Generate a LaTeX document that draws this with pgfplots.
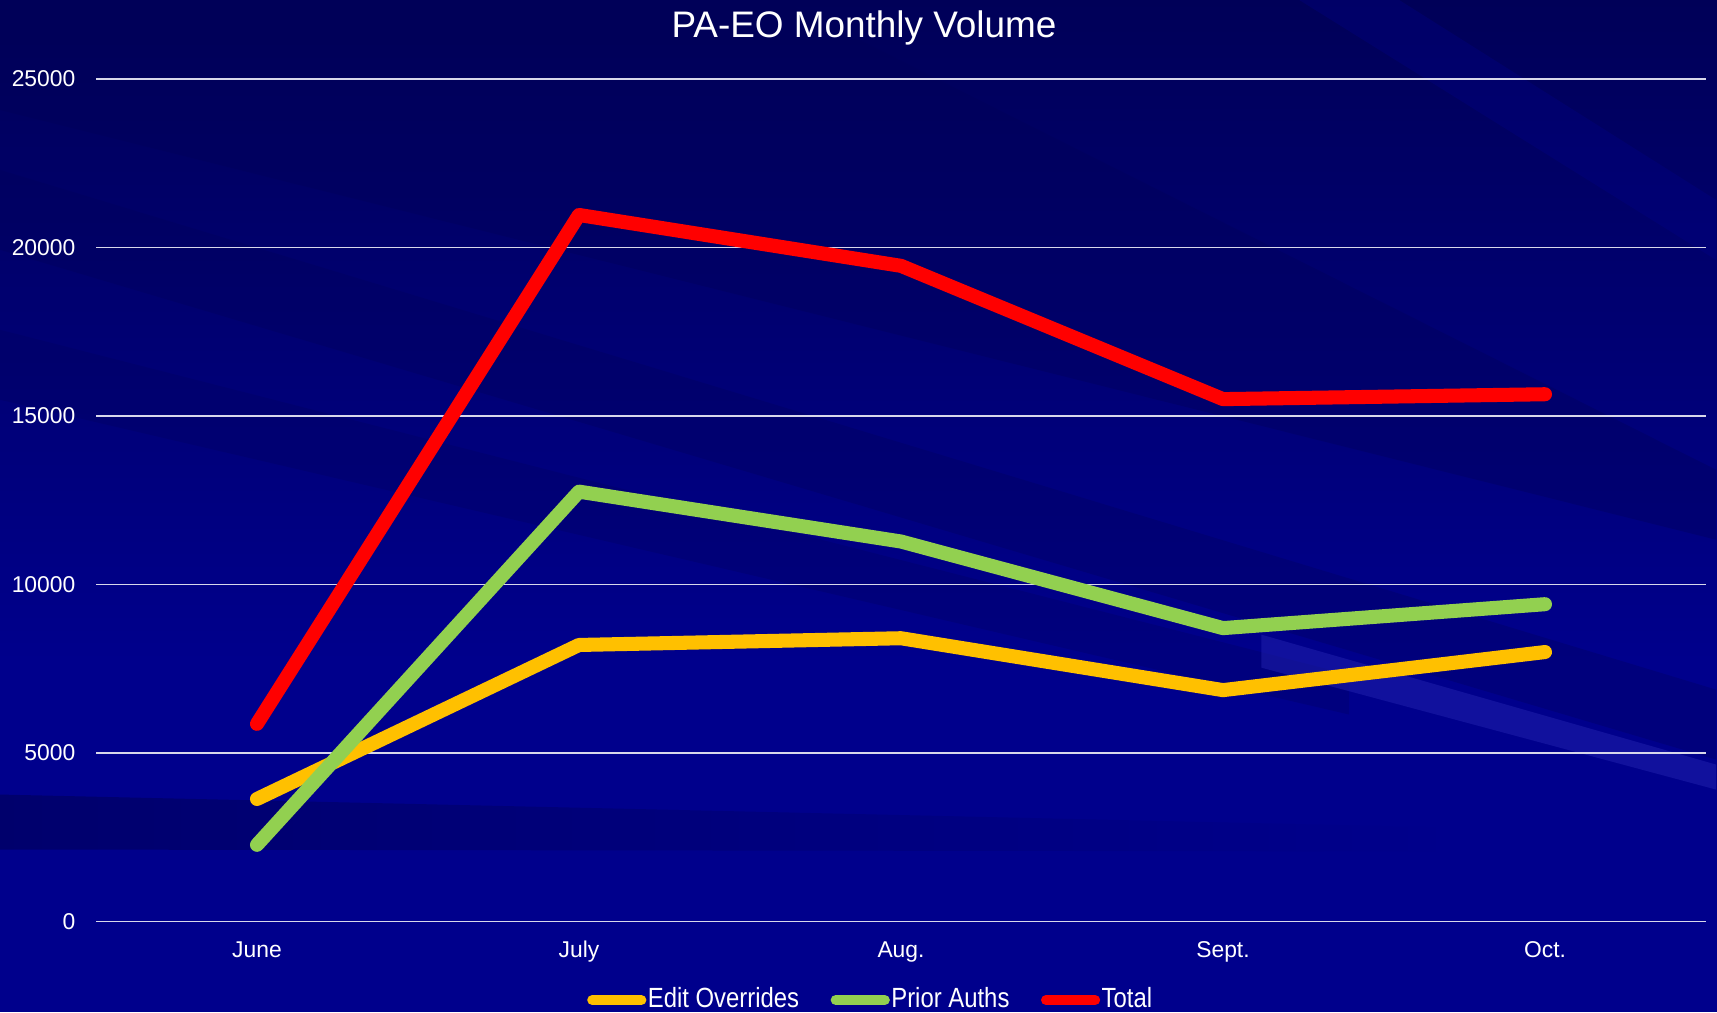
\documentclass[border=0pt]{standalone}
\usepackage{pgfplots}
\pgfplotsset{compat=1.18}
\usepackage{fontspec}
\setmainfont{Liberation Sans}
\newfontfamily\narrowfont[FakeStretch=0.86]{Liberation Sans}
\definecolor{bgbase}{RGB}{0,0,140}
\definecolor{bgmid}{RGB}{0,0,105}
\definecolor{bgdark}{RGB}{0,0,88}
\definecolor{bglight}{RGB}{35,35,175}
\definecolor{eoY}{RGB}{255,192,0}
\definecolor{paG}{RGB}{146,208,80}
\definecolor{totR}{RGB}{255,0,0}
\definecolor{gridc}{RGB}{215,215,235}
\begin{document}
\begin{tikzpicture}
\useasboundingbox (0,0) rectangle (17.17cm,10.12cm);
\clip (0,0) rectangle (17.17cm,10.12cm);
\fill[bgbase] (0,0) rectangle (17.17cm,10.12cm);
\shade[top color=bgdark, bottom color=bgbase] (0,3.5cm) rectangle (17.17cm,10.12cm);
\begin{scope}[x=0.01cm,y=-0.01cm,shift={(0cm,10.12cm)}]
  \fill[bgdark,opacity=0.35] (0,0) -- (780,0) -- (1717,470) -- (1717,540) -- (0,110) -- cycle;
  \fill[bgdark,opacity=0.3] (0,170) -- (0,250) -- (1717,760) -- (1717,690) -- cycle;
  \fill[bgdark,opacity=0.25] (0,330) -- (0,400) -- (1350,715) -- (1350,675) -- cycle;
  \fill[bgbase,opacity=0.3] (1300,0) -- (1400,0) -- (1717,200) -- (1717,260) -- cycle;
  \shade[left color=bgdark, right color=bgbase, opacity=0.6] (0,795) -- (1450,828) -- (1450,852) -- (0,850) -- cycle;
  \fill[bglight,opacity=0.5] (1262,635) -- (1717,765) -- (1717,790) -- (1262,668) -- cycle;
\end{scope}
\node[text=white,font=\fontsize{10.5}{12}\selectfont] at (8.64cm,9.84cm) {PA-EO Monthly Volume};
\begin{axis}[
  at={(0.96cm,0.907cm)}, anchor=south west,
  width=16.10cm, height=8.425cm, scale only axis,
  xmin=-0.5, xmax=4.5, ymin=0, ymax=25000,
  xtick={0,1,2,3,4},
  xticklabels={June,July,Aug.,Sept.,Oct.},
  ytick={0,5000,10000,15000,20000,25000},
  scaled y ticks=false,
  ymajorgrids,
  major grid style={gridc,line width=0.45pt},
  axis line style={draw=none},
  tick style={draw=none},
  ticklabel style={text=white,font=\fontsize{6.5}{8}\selectfont},
  /pgf/number format/assume math mode=true,
  /pgf/number format/1000 sep={},
  yticklabel style={anchor=east,inner xsep=0pt,xshift=-2mm},
  xticklabel style={anchor=base,yshift=-3.6mm},
  legend columns=3,
  legend style={at={(0.481,-0.0935)},anchor=center,draw=none,fill=none,
    text=white,font=\narrowfont\fontsize{7.9}{9}\selectfont,
    nodes={inner xsep=0.15mm,inner ysep=0.5pt},
    /tikz/every even column/.append style={column sep=3mm}},
  legend image code/.code={\draw[#1,line width=2.9pt,line cap=round] (0cm,0cm) -- (4.9mm,0cm);},
  clip=false,
]
\addplot[eoY,line width=4pt,line cap=round,line join=round] coordinates {(0,3630) (1,8200) (2,8400) (3,6860) (4,7990)};
\addlegendentry{Edit Overrides}
\addplot[paG,line width=4pt,line cap=round,line join=round] coordinates {(0,2270) (1,12750) (2,11270) (3,8700) (4,9410)};
\addlegendentry{Prior Auths}
\addplot[totR,line width=4pt,line cap=round,line join=round] coordinates {(0,5860) (1,20960) (2,19450) (3,15495) (4,15640)};
\addlegendentry{Total}
\end{axis}
\end{tikzpicture}
\end{document}
